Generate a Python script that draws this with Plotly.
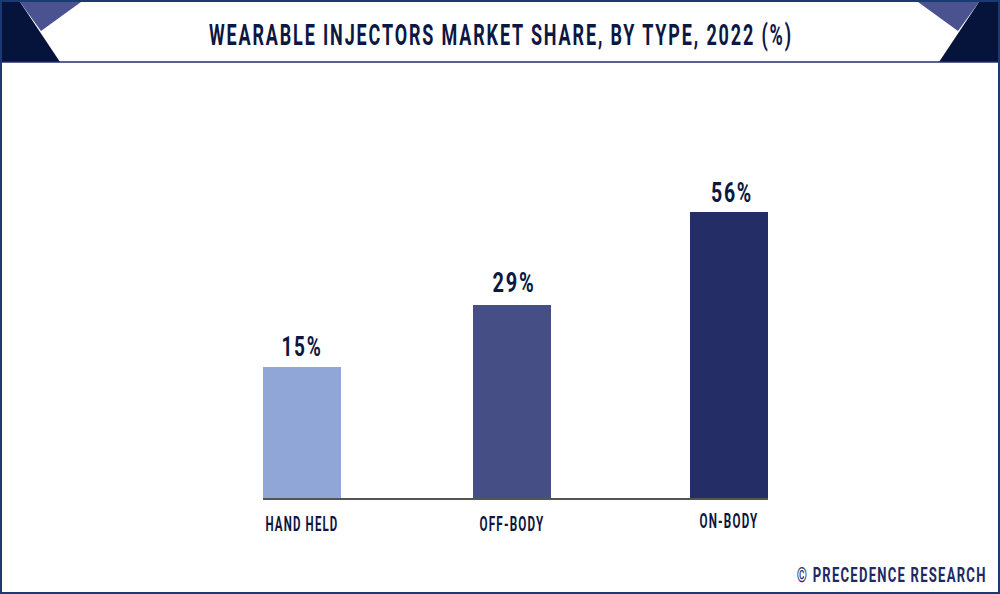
import plotly.graph_objects as go

# Chart content
categories = ["HAND HELD", "OFF-BODY", "ON-BODY"]
value_labels = ["15%", "29%", "56%"]
# Drawn bar heights (the reference bars are not to scale with their labels)
drawn_heights = [25.65, 37.8, 56.0]
bar_colors = ["#8FA6D6", "#464E86", "#242D66"]
title_text = "WEARABLE INJECTORS MARKET SHARE, BY TYPE, 2022 (%)"
credit_text = "© PRECEDENCE RESEARCH"

W, H = 1000, 594
LEFT, RIGHT, BASE = 263, 768, 498
FONT = "Roboto"
INK = "#0C1742"


def px(x):
    return (x - LEFT) / (RIGHT - LEFT)


def py(y):
    return (H - y - (H - BASE)) / BASE


def poly(points, color):
    d = "M " + " L ".join(f"{px(x):.5f},{py(y):.5f}" for x, y in points) + " Z"
    return dict(type="path", xref="paper", yref="paper", path=d,
                fillcolor=color, line=dict(width=0), layer="above")


shapes = [
    poly([(2, 2), (20, 2), (60, 62), (2, 62)], "#06133A"),
    poly([(20, 2), (81, 2), (41, 31)], "#4A5390"),
    poly([(918, 2), (979, 2), (958, 31)], "#4A5390"),
    poly([(979, 2), (998, 2), (998, 62), (939, 62)], "#06133A"),
    dict(type="line", xref="paper", yref="paper", x0=px(2), x1=px(998), y0=py(62), y1=py(62),
         line=dict(color="#232B6E", width=1.5), layer="above"),
    dict(type="rect", xref="paper", yref="paper", x0=px(1), x1=px(999), y0=py(1), y1=py(593),
         line=dict(color="#1C3A72", width=2), fillcolor="rgba(0,0,0,0)", layer="above"),
]

fig = go.Figure(go.Bar(
    x=categories,
    y=drawn_heights,
    width=78 / 213.5,
    offset=[-39 / 213.5, -39 / 213.5 - 0.0164, -39 / 213.5],
    marker=dict(color=bar_colors, line=dict(width=0)),
    text=value_labels,
    textposition="outside",
    textangle=0,
    cliponaxis=False,
    textfont=dict(family=FONT, size=28, color=INK, weight="bold"),
    hoverinfo="skip",
))

fig.update_layout(
    width=W, height=H,
    margin=dict(l=LEFT, r=W - RIGHT, t=0, b=H - BASE, autoexpand=False),
    paper_bgcolor="white", plot_bgcolor="white",
    showlegend=False,
    bargap=0,
    shapes=shapes,
    font=dict(family=FONT, color=INK),
    xaxis=dict(
        type="category", range=[-39 / 213.5, 2 + 39 / 213.5], fixedrange=True,
        showgrid=False, ticks="", showline=True, linecolor="#555555", linewidth=2,
        tickfont=dict(family=FONT, size=20, color=INK, weight="bold"),
        ticklabelstandoff=7,
    ),
    yaxis=dict(range=[0, BASE / (286 / 56)], visible=False, fixedrange=True),
    annotations=[
        dict(text=title_text, xref="paper", yref="paper", x=px(501), y=py(35),
             xanchor="center", yanchor="middle", showarrow=False,
             font=dict(family=FONT, size=29, color=INK, weight="bold")),
        dict(text=credit_text, xref="paper", yref="paper", x=px(995), y=py(575),
             xanchor="right", yanchor="middle", showarrow=False,
             font=dict(family=FONT, size=21, color="#1D2A63", weight="bold")),
    ],
)

# Reference lettering is a tracked condensed display face: fit the installed font to its measured
# text widths with added letter spacing, and nudge the labels the reference sets off-centre.
POST = """
document.body.style.margin='0';document.body.style.overflow='hidden';
var fitSpec={'WEARABLE INJECTORS MARKET SHARE, BY TYPE, 2022 (%)':[584,3,0,0],
'© PRECEDENCE RESEARCH':[190,2,30,0],
'HAND HELD':[73,2,0,0],'OFF-BODY':[65,2,-3.5,0],'ON-BODY':[59,2,0,-3],
'15%':[41,2.5,0,-1],'29%':[43,2.5,2,-3],'56%':[42,2.5,3,0]};
function fit(){document.querySelectorAll('svg text').forEach(function(t){
 var s=fitSpec[t.textContent];
 if(s){t.style.letterSpacing=s[1]+'px';t.setAttribute('textLength',s[0]);
  t.setAttribute('lengthAdjust','spacingAndGlyphs');
  t.setAttribute('dx',s[2]);t.setAttribute('dy',s[3]);
  for(var n=t;n&&n.tagName!=='svg';n=n.parentNode){
   if(n.classList&&n.classList.contains('annotation-text-g')){n.querySelectorAll('[clip-path]').forEach(function(e){e.removeAttribute('clip-path');});}
  }
  t.removeAttribute('clip-path');}
});}
fit();setTimeout(fit,50);setTimeout(fit,300);
"""

fig.write_html("out.html", config=dict(displayModeBar=False), post_script=POST)
